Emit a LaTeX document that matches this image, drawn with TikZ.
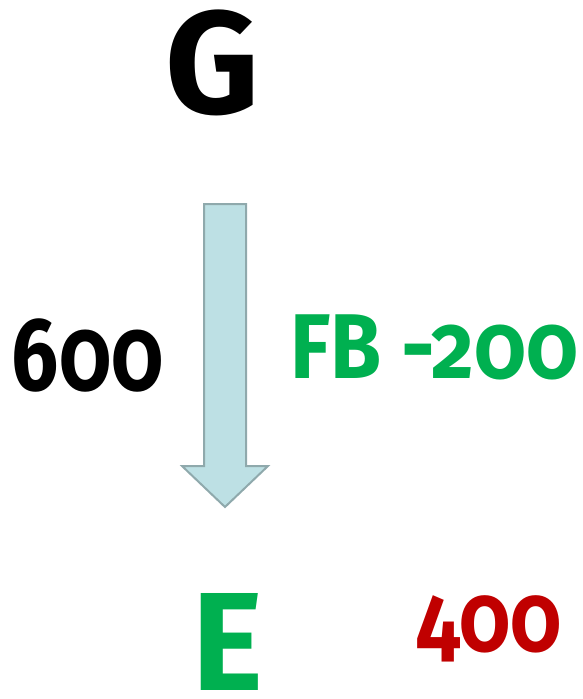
\documentclass[tikz,border=0pt]{standalone}
\usepackage{fontspec}
\setmainfont{Fira Sans}[Numbers=OldStyle,UprightFont=* SemiBold,BoldFont=* Bold]
\definecolor{arrowfill}{HTML}{BDE0E4}
\definecolor{arrowline}{HTML}{8FA9AC}
\definecolor{fbgreen}{HTML}{00B050}
\definecolor{darkred}{HTML}{C00000}
\newcommand{\narrow}[2]{\scalebox{#1}[1]{#2}}
\begin{document}
\begin{tikzpicture}[x=1pt,y=-1pt,
  lbl/.style={inner sep=0pt,outer sep=0pt,font=\bfseries}]
\useasboundingbox (0,0) rectangle (583,699);
% arrow
\draw[fill=arrowfill,draw=arrowline,line width=2pt,line join=miter]
  (204,204) -- (246,204) -- (246,466) -- (268,466) -- (225,507) -- (182,466) -- (204,466) -- cycle;
\node[lbl,anchor=base,font=\fontsize{146}{146}\bfseries] (g) at (213,113) {G};
\node[lbl,anchor=base,text=fbgreen,font=\fontsize{140}{140}\bfseries] (e) at (228,690) {\narrow{0.96}{E}};
\node[lbl,anchor=base west,font=\fontsize{104}{104}\bfseries] (six) at (12,390) {\narrow{0.8}{600}};
\node[lbl,anchor=base west,text=fbgreen,font=\fontsize{92}{92}\bfseries] (fb) at (290,378) {\narrow{0.9}{FB -200}};
\node[lbl,anchor=base west,text=darkred,font=\fontsize{96}{96}\bfseries] (four) at (416,651) {\narrow{0.85}{400}};
\end{tikzpicture}
\end{document}
